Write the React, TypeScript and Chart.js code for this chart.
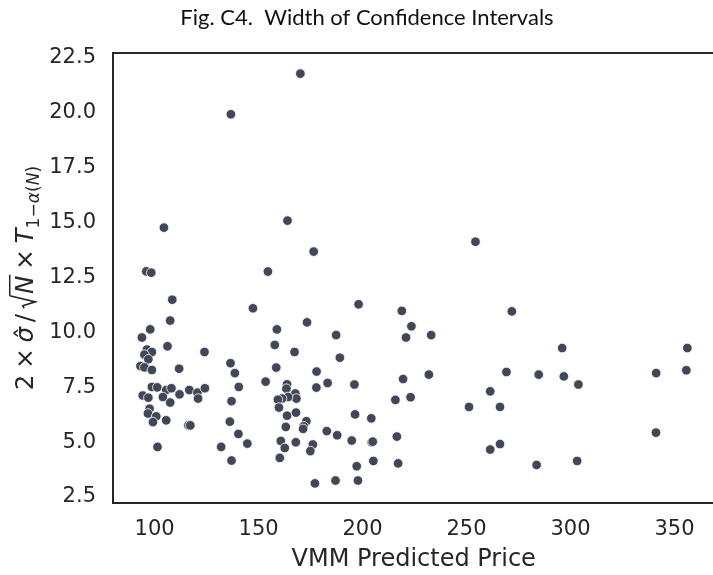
import React, { useEffect, useRef } from 'react';
import { Chart, registerables } from 'chart.js';

Chart.register(...registerables);

const figTitle = 'Fig. C4.  Width of Confidence Intervals';
const xAxisTitle = 'VMM Predicted Price';
const xTickValues = [100, 150, 200, 250, 300, 350];
const yTickValues = [2.5, 5, 7.5, 10, 12.5, 15, 17.5, 20, 22.5];

// VMM predicted price (x)
const predictedPrice = [
  104.5, 136.7, 163.9, 170.1, 96.0, 98.4, 108.5, 147.3, 107.5, 97.9,
  93.9, 106.2, 124.0, 96.3, 98.7, 95.1, 97.0, 93.2, 95.1, 98.7,
  111.8, 136.5, 138.6, 140.5, 98.7, 101.3, 105.6, 108.1, 94.3, 97.0,
  104.0, 107.5, 112.0, 116.7, 120.6, 120.9, 124.2, 137.0, 97.6, 96.8,
  100.8, 99.2, 105.6, 116.3, 117.2, 136.2, 140.3, 144.6, 132.0, 101.4,
  137.0, 254.3, 176.5, 154.5,
  198.1, 218.9, 223.5, 220.9, 173.3, 158.8, 187.3, 157.8, 167.3, 189.1,
  158.5, 177.9, 177.8, 183.2, 196.1, 153.4, 163.7, 163.4, 167.7, 168.2,
  164.2, 161.3, 159.3, 159.8, 163.7, 168.0, 173.0, 171.7, 171.4, 163.1,
  182.8, 187.8, 194.8, 204.4, 204.9, 196.4, 204.2, 219.5, 215.8, 223.1,
  216.5, 217.1, 205.2, 197.2, 160.7, 162.6, 167.9, 160.2, 176.1, 174.9,
  177.1, 187.0, 197.8,
  271.8, 233.0, 296.0, 356.2, 231.9, 269.2, 284.7, 296.8, 303.8, 341.2,
  355.7, 261.4, 251.2, 266.1, 341.1, 266.1, 261.4, 283.7, 303.2,
];

// Width of confidence interval (y)
const ciWidth = [
  14.76, 19.92, 15.08, 21.77, 12.77, 12.71, 11.48, 11.09, 10.53, 10.13,
  9.76, 9.36, 9.10, 9.21, 9.10, 8.98, 8.77, 8.46, 8.40, 8.28,
  8.34, 8.59, 8.14, 7.51, 7.51, 7.49, 7.37, 7.45, 7.12, 7.02,
  7.05, 6.80, 7.17, 7.37, 7.25, 6.98, 7.45, 6.86, 6.52, 6.30,
  6.17, 5.91, 5.99, 5.76, 5.76, 5.93, 5.37, 4.93, 4.78, 4.78,
  4.16, 14.12, 13.67, 12.76,
  11.27, 10.97, 10.27, 9.76, 10.45, 10.13, 9.87, 9.42, 9.10, 8.84,
  8.39, 8.21, 7.48, 7.69, 7.62, 7.75, 7.63, 7.43, 7.21, 6.98,
  7.05, 6.98, 6.93, 6.57, 6.20, 6.34, 5.95, 5.72, 5.60, 5.69,
  5.50, 5.31, 5.07, 4.99, 5.02, 6.26, 6.08, 7.87, 6.92, 7.04,
  5.25, 4.03, 4.14, 3.90, 5.05, 4.73, 4.99, 4.28, 4.89, 4.59,
  3.12, 3.25, 3.25,
  10.95, 9.87, 9.28, 9.28, 8.07, 8.19, 8.07, 7.99, 7.62, 8.14,
  8.27, 7.31, 6.60, 6.60, 5.43, 4.91, 4.66, 3.96, 4.14,
];

const INK = '#262626';
const MARKER = '#414757';

function drawYTitle(ctx: CanvasRenderingContext2D, baseX: number, centerY: number) {
  const S = 24.5;
  const sub = S * 0.7;
  const subDy = S * 0.24;
  const reg = (s: number) => `${s}px "DejaVu Sans"`;
  const it = (s: number) => `italic ${s}px "DejaVu Sans"`;
  const g = S * 0.24;
  type Part = { t?: string; f?: string; gap?: number; dy?: number; hat?: boolean; radical?: boolean; over?: boolean; w?: number; u?: number };
  const parts: Part[] = [
    { t: '2', f: reg(S) },
    { gap: g },
    { t: '\u00d7', f: reg(S) },
    { gap: g },
    { t: '\u03c3', f: it(S), hat: true },
    { gap: g * 0.8 },
    { t: '/', f: reg(S) },
    { gap: g * 0.8 },
    { radical: true, gap: S * 0.62 },
    { t: 'N', f: it(S), over: true },
    { gap: g },
    { t: '\u00d7', f: reg(S) },
    { gap: g },
    { t: 'T', f: it(S) },
    { t: '1', f: reg(sub), dy: subDy },
    { t: '\u2212', f: reg(sub), dy: subDy },
    { t: '\u03b1', f: it(sub), dy: subDy },
    { t: '(', f: reg(sub), dy: subDy },
    { t: 'N', f: it(sub), dy: subDy },
    { t: ')', f: reg(sub), dy: subDy },
  ];
  let total = 0;
  for (const p of parts) {
    if (p.t) {
      ctx.font = p.f!;
      p.w = ctx.measureText(p.t).width;
    } else {
      p.w = p.gap || 0;
    }
    total += p.w;
  }
  ctx.save();
  ctx.translate(baseX, centerY);
  ctx.rotate(-Math.PI / 2);
  ctx.fillStyle = INK;
  ctx.strokeStyle = INK;
  ctx.textAlign = 'left';
  ctx.textBaseline = 'alphabetic';
  let u = -total / 2;
  let radStart = 0;
  for (const p of parts) {
    p.u = u;
    if (p.t) {
      ctx.font = p.f!;
      ctx.fillText(p.t, u, p.dy || 0);
      if (p.hat) {
        ctx.font = reg(S);
        const hw = ctx.measureText('\u02c6').width;
        ctx.fillText('\u02c6', u + p.w! / 2 - hw / 2 + S * 0.06, -S * 0.02);
      }
      if (p.over) {
        ctx.lineWidth = 1.5;
        ctx.beginPath();
        ctx.moveTo(radStart + S * 0.55, -S * 0.95);
        ctx.lineTo(u + p.w! + S * 0.04, -S * 0.95);
        ctx.stroke();
      }
    } else if (p.radical) {
      radStart = u;
      ctx.lineWidth = 1.6;
      ctx.lineJoin = 'miter';
      ctx.beginPath();
      ctx.moveTo(u + S * 0.04, -S * 0.36);
      ctx.lineTo(u + S * 0.14, -S * 0.42);
      ctx.lineTo(u + S * 0.30, S * 0.1);
      ctx.lineTo(u + S * 0.55, -S * 0.95);
      ctx.stroke();
    }
    u += p.w!;
  }
  ctx.restore();
}

const textPlugin = {
  id: 'figureText',
  afterDraw(chart: any) {
    const ctx: CanvasRenderingContext2D = chart.ctx;
    const ca = chart.chartArea;
    ctx.save();
    // top spine
    ctx.strokeStyle = INK;
    ctx.lineWidth = 2;
    ctx.beginPath();
    ctx.moveTo(ca.left - 1, ca.top);
    ctx.lineTo(ca.right, ca.top);
    ctx.stroke();
    // figure title
    ctx.fillStyle = '#111111';
    ctx.textAlign = 'center';
    ctx.textBaseline = 'alphabetic';
    ctx.font = '22px Lato';
    ctx.fillText(figTitle, 367, 25, 390);
    // x axis title
    ctx.fillStyle = INK;
    ctx.font = '24px "DejaVu Sans"';
    ctx.fillText(xAxisTitle, (ca.left + ca.right) / 2, 566);
    // y axis title
    drawYTitle(ctx, 33, (ca.top + ca.bottom) / 2);
    ctx.restore();
  },
};

export default function App() {
  const ref = useRef<HTMLCanvasElement | null>(null);
  useEffect(() => {
    if (!ref.current) return;
    const points = predictedPrice.map((x, i) => ({ x, y: ciWidth[i] }));
    const tickFont = { family: '"DejaVu Sans"', size: 21 };
    const chart = new Chart(ref.current, {
      type: 'scatter',
      data: {
        datasets: [
          {
            data: points,
            backgroundColor: MARKER,
            borderColor: '#ffffff',
            borderWidth: 0.8,
            pointRadius: 4.8,
            pointHoverRadius: 4.8,
          },
        ],
      },
      options: {
        animation: false,
        responsive: false,
        devicePixelRatio: 1,
        events: [],
        layout: { padding: { left: 0, right: 2, top: 53, bottom: 0 } },
        plugins: {
          legend: { display: false },
          tooltip: { enabled: false },
          title: { display: false },
        },
        scales: {
          x: {
            type: 'linear',
            min: 80,
            max: 369.2,
            grid: { display: false, drawTicks: false },
            border: { display: true, color: INK, width: 2 },
            ticks: {
              font: tickFont,
              color: INK,
              padding: 14,
              maxRotation: 0,
              callback: (v: any) => String(v),
            },
            afterBuildTicks: (s: any) => {
              s.ticks = xTickValues.map((v) => ({ value: v }));
            },
            afterFit: (s: any) => {
              s.height = 72;
            },
          },
          y: {
            type: 'linear',
            min: 2.227,
            max: 22.71,
            grid: { display: false, drawTicks: false },
            border: { display: true, color: INK, width: 2 },
            ticks: {
              font: tickFont,
              color: INK,
              padding: 17,
              callback: (v: any) => Number(v).toFixed(1),
            },
            afterBuildTicks: (s: any) => {
              s.ticks = yTickValues.map((v) => ({ value: v }));
            },
            afterFit: (s: any) => {
              s.width = 113;
            },
          },
        },
      },
      plugins: [textPlugin],
    });
    return () => chart.destroy();
  }, []);
  return (
    <div style={{ position: 'fixed', left: 0, top: 0, width: 713, height: 575, overflow: 'hidden', background: '#fff' }}>
      <canvas ref={ref} width={720} height={575} style={{ width: 720, height: 575, display: 'block' }} />
    </div>
  );
}
